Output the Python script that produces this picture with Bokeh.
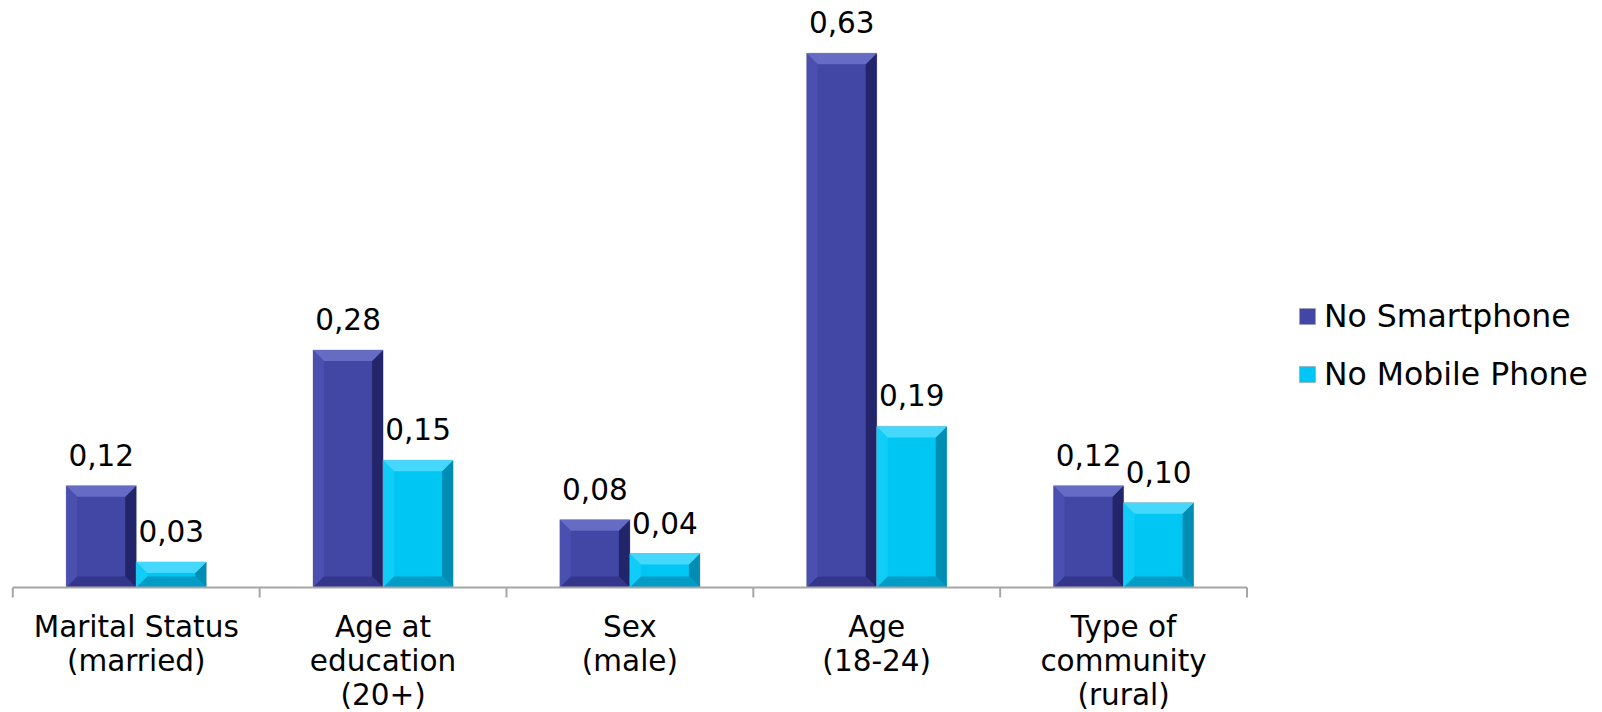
from bokeh.plotting import figure
from bokeh.models import Range1d, Legend, LegendItem, ColumnDataSource
from bokeh.core.properties import value
from bokeh.embed import file_html
from bokeh.resources import INLINE

# ---- data -------------------------------------------------------------
categories = [
    "Marital Status\n(married)",
    "Age at\neducation\n(20+)",
    "Sex\n(male)",
    "Age\n(18-24)",
    "Type of\ncommunity\n(rural)",
]
no_smartphone = [0.12, 0.28, 0.08, 0.63, 0.12]
no_mobile_phone = [0.03, 0.15, 0.04, 0.19, 0.10]
series_names = ["No Smartphone", "No Mobile Phone"]

# ---- styling ----------------------------------------------------------
W, H = 1602, 712
FONT = "DejaVu Sans"
FS = "29.5px"
LEGEND_FS = "31.5px"

# colours: face, top bevel, right bevel, bottom bevel, left bevel
palettes = [
    ("#4246a4", "#666bc4", "#23256b", "#33368a", "#4a4fb0"),
    ("#00c6f4", "#45d8fc", "#008db4", "#009cc6", "#10cdf8"),
]

# pixel geometry of the plotting area
LEFT_PX, RIGHT_PX = 12.3, 1246.5      # axis extent on screen
BASE_PX = 587.0                        # screen row of value 0
PX_PER_UNIT = 848.0                    # vertical scale
n = len(categories)
ux = n / (RIGHT_PX - LEFT_PX)          # data units per pixel (x)
uy = 1.0 / PX_PER_UNIT                 # data units per pixel (y)

p = figure(
    width=W, height=H, output_backend="svg", toolbar_location=None,
    min_border=0, min_border_left=0, min_border_right=0,
    min_border_top=0, min_border_bottom=0,
    x_range=Range1d(-LEFT_PX * ux, n + (W - RIGHT_PX) * ux),
    y_range=Range1d(-(H - BASE_PX) * uy, BASE_PX * uy),
)
p.axis.visible = False
p.grid.visible = False
p.outline_line_color = None
p.background_fill_color = "white"
p.border_fill_color = "white"

bar_w = 70 * ux
bev_x = 11 * ux
bev_y = 11 * uy

legend_items = []
for s, (vals, pal) in enumerate(zip([no_smartphone, no_mobile_phone], palettes)):
    face, top_c, right_c, bottom_c, left_c = pal
    centers = [i + 0.5 + (s - 0.5) * bar_w for i in range(n)]
    src = ColumnDataSource(dict(x=centers, top=vals))
    r = p.vbar(x="x", top="top", bottom=0, width=bar_w, source=src,
               fill_color=face, line_color="#9a9ab0", line_width=0.6)
    legend_items.append(LegendItem(label=series_names[s], renderers=[r]))

    # bevel facets computed from each bar's value
    tops, rights, bottoms, lefts = [[], []], [[], []], [[], []], [[], []]
    for c, v in zip(centers, vals):
        x0, x1 = c - bar_w / 2, c + bar_w / 2
        by = min(bev_y, v / 2.2)
        tops[0].append([x0, x1, x1 - bev_x, x0 + bev_x])
        tops[1].append([v, v, v - by, v - by])
        rights[0].append([x1, x1, x1 - bev_x, x1 - bev_x])
        rights[1].append([v, 0, by, v - by])
        bottoms[0].append([x0, x1, x1 - bev_x, x0 + bev_x])
        bottoms[1].append([0, 0, by, by])
        lefts[0].append([x0, x0, x0 + bev_x, x0 + bev_x])
        lefts[1].append([v, 0, by, v - by])
    p.patches(xs=lefts[0], ys=lefts[1], fill_color=left_c, line_color=None)
    p.patches(xs=rights[0], ys=rights[1], fill_color=right_c, line_color=None)
    p.patches(xs=bottoms[0], ys=bottoms[1], fill_color=bottom_c, line_color=None)
    p.patches(xs=tops[0], ys=tops[1], fill_color=top_c, line_color=None)

    # value labels
    labels = [f"{v:.2f}".replace(".", ",") for v in vals]
    p.text(x=centers, y=vals, text=labels, text_align="center",
           text_baseline="alphabetic", y_offset=-31,
           text_font=value(FONT), text_font_size=FS, text_color="black")

# category axis: baseline and boundary ticks
p.segment(x0=[0], y0=[0], x1=[n], y1=[0], line_color="#a6a6a6", line_width=2)
p.segment(x0=list(range(n + 1)), y0=[0] * (n + 1),
          x1=list(range(n + 1)), y1=[-10 * uy] * (n + 1),
          line_color="#a6a6a6", line_width=2)

# multi-line category labels
for i, cat in enumerate(categories):
    for j, line in enumerate(cat.split("\n")):
        p.text(x=[i + 0.5], y=[0], text=[line], text_align="center",
               text_baseline="middle", y_offset=39 + 34 * j,
               text_font=value(FONT), text_font_size=FS, text_color="black")

legend = Legend(
    items=legend_items, location=(1297, 320), orientation="vertical",
    padding=0, margin=0, spacing=22, border_line_alpha=0,
    background_fill_alpha=0, glyph_width=20, glyph_height=20,
    label_standoff=7, label_text_font=FONT, label_text_font_size=LEGEND_FS,
    label_text_color="black",
)
p.add_layout(legend)

open("out.html", "w").write(file_html(p, INLINE))
